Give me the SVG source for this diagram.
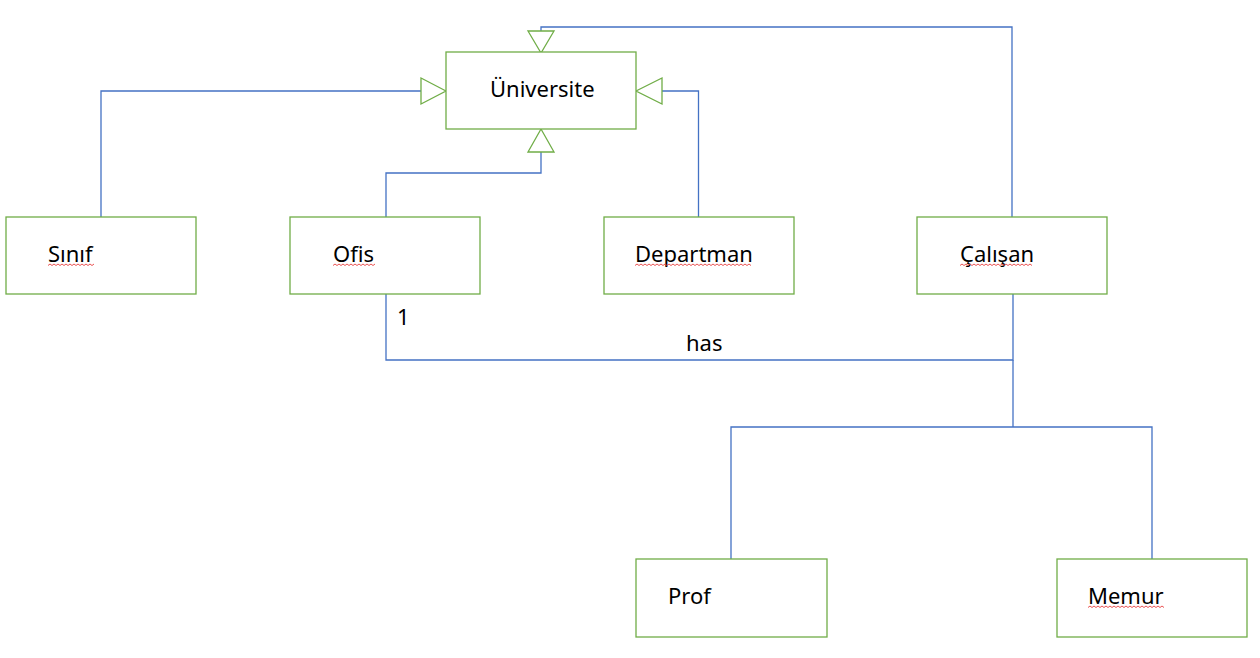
<svg xmlns="http://www.w3.org/2000/svg" width="1260" height="658" viewBox="0 0 1260 658">
<style>
.box{fill:#fff;stroke:#70AD47;stroke-width:1.3}
.lbl{font-family:"Noto Sans","Liberation Sans",sans-serif;font-size:22px;fill:#000}
.ln{fill:none;stroke:#4472C4;stroke-width:1.3}
.tri{fill:#fff;stroke:#70AD47;stroke-width:1.3}
.sq{fill:none;stroke:#E84040;stroke-width:0.9}
</style>
<rect width="1260" height="658" fill="#fff"/>
<g id="connectors">
<polyline class="ln" points="101,217 101,91 421,91"/>
<polyline class="ln" points="698.5,217 698.5,91 662,91"/>
<polyline class="ln" points="386,217 386,173 541,173 541,152"/>
<polyline class="ln" points="1012,217 1012,27 541,27 541,31"/>
<polyline class="ln" points="1013,294 1013,360 386,360 386,294"/>
<polyline class="ln" points="1013,360 1013,427"/>
<polyline class="ln" points="731,559 731,427 1152,427 1152,559"/>
<polygon class="tri" points="446,91 421,78 421,104"/>
<polygon class="tri" points="636,91 662,78 662,104"/>
<polygon class="tri" points="541,129 528,152 554,152"/>
<polygon class="tri" points="541,53 528,31 554,31"/>
<text class="lbl" x="397" y="325" font-size="20">1</text>
<text class="lbl" x="686" y="351" font-size="20">has</text>
</g>
<g id="universite">
<rect class="box" x="446" y="52" width="190" height="77"/>
<text class="lbl" x="490" y="97">Üniversite</text>
</g>
<g id="sinif">
<rect class="box" x="6" y="217" width="190" height="77"/>
<text class="lbl" x="48" y="262">Sınıf</text>
<path class="sq" d="M48,265.5 l2,-1.5 l2,1.5 l2,-1.5 l2,1.5 l2,-1.5 l2,1.5 l2,-1.5 l2,1.5 l2,-1.5 l2,1.5 l2,-1.5 l2,1.5 l2,-1.5 l2,1.5 l2,-1.5 l2,1.5 l2,-1.5 l2,1.5 l2,-1.5 l2,1.5 l2,-1.5 l2,1.5 l2,-1.5"/>
</g>
<g id="ofis">
<rect class="box" x="290" y="217" width="190" height="77"/>
<text class="lbl" x="333" y="262">Ofis</text>
<path class="sq" d="M333,265.5 l2,-1.5 l2,1.5 l2,-1.5 l2,1.5 l2,-1.5 l2,1.5 l2,-1.5 l2,1.5 l2,-1.5 l2,1.5 l2,-1.5 l2,1.5 l2,-1.5 l2,1.5 l2,-1.5 l2,1.5 l2,-1.5 l2,1.5 l2,-1.5 l2,1.5 l2,-1.5"/>
</g>
<g id="departman">
<rect class="box" x="604" y="217" width="190" height="77"/>
<text class="lbl" x="635" y="262">Departman</text>
<path class="sq" d="M635,265.5 l2,-1.5 l2,1.5 l2,-1.5 l2,1.5 l2,-1.5 l2,1.5 l2,-1.5 l2,1.5 l2,-1.5 l2,1.5 l2,-1.5 l2,1.5 l2,-1.5 l2,1.5 l2,-1.5 l2,1.5 l2,-1.5 l2,1.5 l2,-1.5 l2,1.5 l2,-1.5 l2,1.5 l2,-1.5 l2,1.5 l2,-1.5 l2,1.5 l2,-1.5 l2,1.5 l2,-1.5 l2,1.5 l2,-1.5 l2,1.5 l2,-1.5 l2,1.5 l2,-1.5 l2,1.5 l2,-1.5 l2,1.5 l2,-1.5 l2,1.5 l2,-1.5 l2,1.5 l2,-1.5 l2,1.5 l2,-1.5 l2,1.5 l2,-1.5 l2,1.5 l2,-1.5 l2,1.5 l2,-1.5 l2,1.5 l2,-1.5 l2,1.5 l2,-1.5 l2,1.5 l2,-1.5 l2,1.5"/>
</g>
<g id="calisan">
<rect class="box" x="917" y="217" width="190" height="77"/>
<text class="lbl" x="960" y="262">Çalışan</text>
<path class="sq" d="M960,265.5 l2,-1.5 l2,1.5 l2,-1.5 l2,1.5 l2,-1.5 l2,1.5 l2,-1.5 l2,1.5 l2,-1.5 l2,1.5 l2,-1.5 l2,1.5 l2,-1.5 l2,1.5 l2,-1.5 l2,1.5 l2,-1.5 l2,1.5 l2,-1.5 l2,1.5 l2,-1.5 l2,1.5 l2,-1.5 l2,1.5 l2,-1.5 l2,1.5 l2,-1.5 l2,1.5 l2,-1.5 l2,1.5 l2,-1.5 l2,1.5 l2,-1.5 l2,1.5 l2,-1.5 l2,1.5"/>
</g>
<g id="prof">
<rect class="box" x="636" y="559" width="191" height="78"/>
<text class="lbl" x="668" y="604">Prof</text>
</g>
<g id="memur">
<rect class="box" x="1057" y="559" width="190" height="78"/>
<text class="lbl" x="1088" y="604">Memur</text>
<path class="sq" d="M1088,607.5 l2,-1.5 l2,1.5 l2,-1.5 l2,1.5 l2,-1.5 l2,1.5 l2,-1.5 l2,1.5 l2,-1.5 l2,1.5 l2,-1.5 l2,1.5 l2,-1.5 l2,1.5 l2,-1.5 l2,1.5 l2,-1.5 l2,1.5 l2,-1.5 l2,1.5 l2,-1.5 l2,1.5 l2,-1.5 l2,1.5 l2,-1.5 l2,1.5 l2,-1.5 l2,1.5 l2,-1.5 l2,1.5 l2,-1.5 l2,1.5 l2,-1.5 l2,1.5 l2,-1.5 l2,1.5 l2,-1.5 l2,1.5"/>
</g>
</svg>
